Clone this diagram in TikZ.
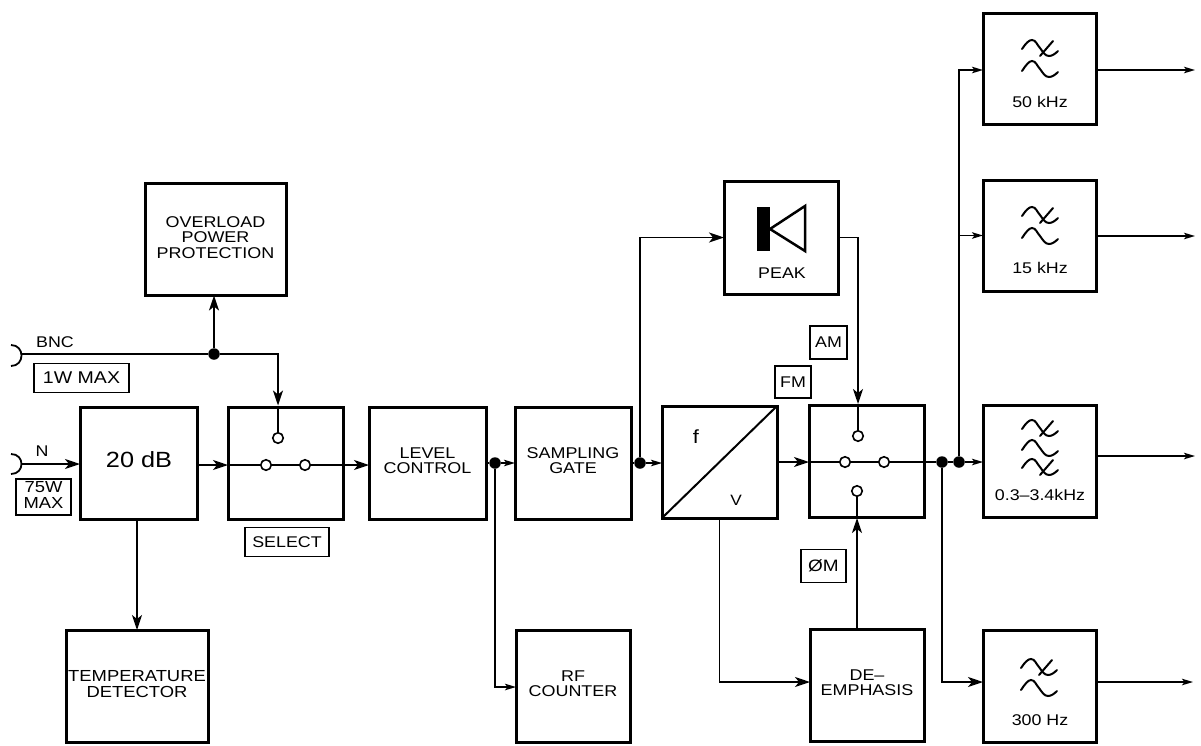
\documentclass[tikz,border=0pt]{standalone}
\usepackage{fontspec}
\setmainfont{Liberation Sans}[FakeStretch=1.15]
\usetikzlibrary{arrows.meta}
\newcommand{\fs}[1]{\fontsize{#1}{14.5}\selectfont}
\newcommand{\twol}[2]{\begin{tabular}{@{}c@{}}#1\\#2\end{tabular}}
\tikzset{
  x=1pt,y=-1pt,
  blk/.style 2 args={draw,line width=3pt,fill=white,minimum width=#1pt,minimum height=#2pt,inner sep=0pt,outer sep=0pt,align=center,font=\fs{15.6}},
  tag/.style 2 args={draw,line width=1.3pt,minimum width=#1pt,minimum height=#2pt,inner sep=0pt,align=center,font=\fs{15.5}},
  txt/.style={inner sep=0pt,align=center,font=\fs{15.5}},
  sig/.style={line width=1.7pt},
  big/.style={sig,-{Stealth[length=15pt,width=10pt,inset=4pt]}},
  small/.style={sig,-{Stealth[length=11pt,width=6.5pt,inset=2.5pt]}},
  dot/.style={circle,fill=black,draw=none,minimum size=11.5pt,inner sep=0pt,outer sep=0pt},
  contact/.style={circle,fill=white,draw,line width=1.6pt,minimum size=10.5pt,inner sep=0pt,outer sep=0pt},
  wave/.pic={\draw[line width=2pt,line cap=round] (-18,2) .. controls (-14,-4) and (-11,-8) .. (-8,-8) .. controls (-4,-8) and (-3,-3) .. (0,0) .. controls (3,4) and (5,8) .. (9,8) .. controls (12,8) and (15,6) .. (18,3);},
  xwave/.pic={\draw[line width=2pt,line cap=round] (-18,1) .. controls (-14,-5) and (-11,-8) .. (-8,-8) .. controls (-4,-8) and (-3,-3) .. (0,0) .. controls (3,4) and (5,8) .. (9,8) .. controls (12,8) and (15,6) .. (18,3);
    \draw[line width=2pt,line cap=round] (0,8) -- (13,-7);},
}
\begin{document}
\begin{tikzpicture}
\path[use as bounding box] (0,0) rectangle (1201,745);
% blocks
\node[blk={141}{112}] (over) at (215.5,239.5) {\twol{OVERLOAD}{\twol{POWER}{PROTECTION}}};
\node[blk={117}{112}] (att) at (138.5,463) {};
\node[inner sep=0pt,font=\fs{22}] (attT) at (139,460) {20 dB};
\node[blk={115}{112}] (sel) at (285.5,463) {};
\node[blk={117}{112}] (lev) at (427.5,463) {\twol{LEVEL}{CONTROL}};
\node[blk={116}{112}] (samp) at (573,463) {\raisebox{-3pt}{\twol{SAMPLING}{GATE}}};
\node[blk={115}{112}] (fv) at (719.5,462) {};
\node[blk={115}{112}] (sw) at (866.5,461) {};
\node[blk={114}{113}] (peak) at (781,237.5) {};
\node[blk={142}{112},font=\fs{16}] (temp) at (137,686) {\raisebox{-1pt}{\twol{TEMPERATURE}{DETECTOR}}};
\node[blk={114}{112}] (rf) at (573,686) {\twol{RF}{COUNTER}};
\node[blk={114}{112}] (de) at (867,685) {\raisebox{3pt}{\twol{DE--}{EMPHASIS}}};
\node[blk={113}{111}] (f50) at (1039.5,68.5) {};
\node[blk={113}{111}] (f15) at (1039.5,235.5) {};
\node[blk={113}{112}] (f03) at (1039.5,461) {};
\node[blk={113}{112}] (f300) at (1039.5,686) {};
% tags
\node[tag={95}{29},font=\fs{17}] (t1w) at (81.5,378) {1W MAX};
\node[tag={55}{36},font=\fs{16}] (t75) at (43.5,497) {\twol{75W}{MAX}};
\node[tag={84}{29}] (tsel) at (287,542) {SELECT};
\node[tag={37}{33}] (tam) at (828.5,342.5) {AM};
\node[tag={36}{32}] (tfm) at (793,382) {FM};
\node[tag={45}{33},font=\fs{16.5}] (tpm) at (823.5,566) {ØM};
% labels
\node[txt] (lbnc) at (55,342) {BNC};
\node[txt] (ln) at (42,451) {N};
\node[txt] (lpeak) at (782,273) {PEAK};
\node[txt,font=\fs{19}] (lf) at (696,437) {f};
\node[txt,font=\fs{15}] (lv) at (736,500) {V};
\node[txt] (l50) at (1040,102) {50 kHz};
\node[txt] (l15) at (1040,268) {15 kHz};
\node[txt] (l03) at (1040,495) {0.3--3.4kHz};
\node[txt] (l300) at (1040,720) {300 Hz};
% contacts and junctions
\node[contact] (c1t) at (278,438) {};
\node[contact] (c1a) at (266,465) {};
\node[contact] (c1b) at (305,465) {};
\node[contact] (c2t) at (858,436) {};
\node[contact] (c2a) at (845,462) {};
\node[contact] (c2b) at (884,462) {};
\node[contact] (c2u) at (857,491) {};
\node[dot] (jb) at (214,354) {};
\node[dot] (jl) at (495,463) {};
\node[dot] (js) at (640,463) {};
\node[dot] (jo1) at (942,462) {};
\node[dot] (jo2) at (959,462) {};
% free ends and entry points
\coordinate (bncin) at (22,354);
\coordinate (nin) at (21.5,464);
\coordinate (seltop) at (278,405.5);
\coordinate (swtop) at (858,404);
\coordinate (swbot) at (857,518);
\coordinate (selw) at (228,465);
\coordinate (sele) at (343,465);
\coordinate (swl) at (809,462);
\coordinate (swr) at (924,462);
\coordinate (o50) at (1195,70);
\coordinate (o15) at (1195,236);
\coordinate (o03) at (1195,456);
\coordinate (o300) at (1193,682);
% connector cups
\draw[line width=1.8pt] (11,345) .. controls (25,345) and (25,366) .. (11,366);
\draw[line width=1.8pt] (11,454) .. controls (25,454) and (25,474) .. (11,474);
% connectors
\draw[sig] (bncin) -- (jb);
\draw[big] (jb) -| (seltop);
\draw[big] (jb) -- (jb |- over.south);
\draw[sig] (seltop) -- (c1t);
\draw[big] (nin) -- (nin -| att.west);
\draw[big] (att.east |- selw) -- (selw);
\draw[sig] (selw) -- (c1a);
\draw[sig] (c1a) -- (c1b);
\draw[sig] (c1b) -- (sele);
\draw[big] (sele) -- (sele -| lev.west);
\draw[sig] (lev.east) -- (jl);
\draw[small] (jl) -- (samp.west);
\draw[sig] (samp.east) -- (js);
\draw[small] (js) -- (js -| fv.west);
\draw[big] (js) |- (peak.west);
\draw[small] (jl) |- (rf.west |- 0,687);
\draw[big] (fv.east |- swl) -- (swl);
\draw[sig] (swl) -- (c2a);
\draw[sig] (c2a) -- (c2b);
\draw[sig] (c2b) -- (swr);
\draw[sig] (swr) -- (jo1);
\draw[sig] (jo1) -- (jo2);
\draw[small] (jo2) -- (f03.west |- jo2);
\draw[big] (peak.east) -| (swtop);
\draw[sig] (swtop) -- (c2t);
\draw[big] (de.north -| swbot) -- (swbot);
\draw[sig] (swbot) -- (c2u);
\draw[big] (fv.south) |- (de.west |- 0,682);
\draw[big] (att.south -| temp.north) -- (temp.north);
\draw[big] (jo1) |- (f300.west |- 0,682);
\draw[small] (jo2) |- (f50.west |- 0,70);
\draw[small] (jo2 |- f15.west) -- (f15.west);
\draw[small] (f50.east |- o50) -- (o50);
\draw[small] (f15.east |- o15) -- (o15);
\draw[small] (f03.east |- o03) -- (o03);
\draw[small] (f300.east |- o300) -- (o300);
% f/V divider
\draw[line width=2pt] (fv.south west) -- (fv.north east);
% peak detector symbol
\fill (757,207) rectangle (770,251);
\draw[line width=2.5pt,line join=miter] (770,229) -- (805,206) -- (805,251) -- cycle;
% filter symbols
\pic at (1040,48) {xwave};
\pic at (1040,69) {wave};
\pic at (1040,215) {xwave};
\pic at (1040,236) {wave};
\pic at (1040,428) {xwave};
\pic at (1040,448) {wave};
\pic at (1040,467) {xwave};
\pic at (1039,667) {xwave};
\pic at (1039,688) {wave};
\end{tikzpicture}
\end{document}
